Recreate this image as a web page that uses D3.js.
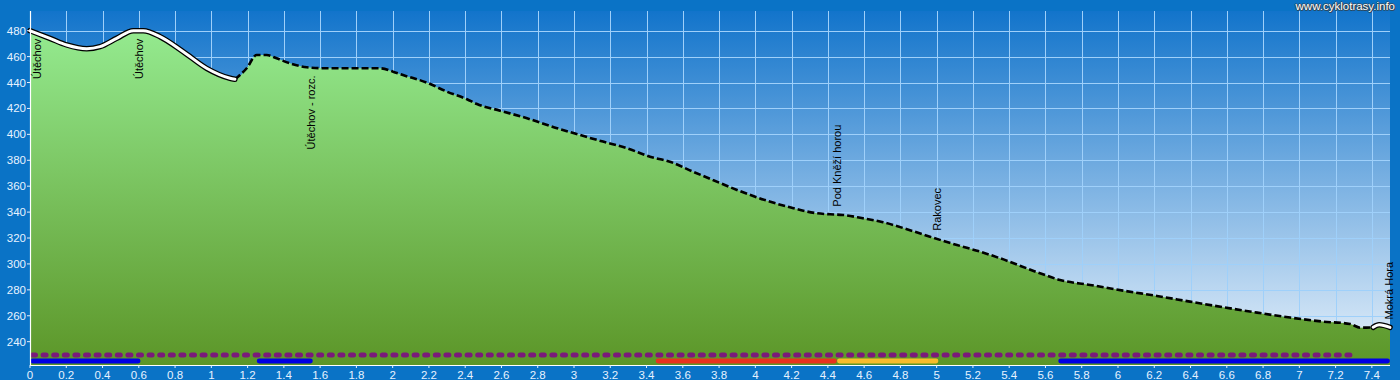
<!DOCTYPE html>
<html><head><meta charset="utf-8">
<script src="https://cdn.jsdelivr.net/npm/d3@7"></script>
<style>html,body{margin:0;padding:0;background:#0a73c6;} svg{display:block;}</style>
</head><body>
<svg id="c" width="1400" height="380"></svg>
<script>
// ---- data ----
const distKm = [0.000,0.110,0.202,0.313,0.386,0.478,0.570,0.625,0.717,0.845,0.974,1.103,1.130,
  1.195,1.250,1.305,1.360,1.434,1.526,1.636,1.930,2.002,2.057,2.189,2.300,2.410,2.465,2.592,2.741,
  2.907,3.033,3.160,3.292,3.419,3.529,3.656,3.766,3.899,4.064,4.191,4.340,4.412,4.483,4.593,4.704,
  4.836,4.963,5.112,5.239,5.349,5.570,5.680,5.846,6.028,6.215,6.397,6.579,6.767,6.949,7.131,7.280,
  7.335,7.407,7.440,7.500];
const elevM = [480,474.1,469,466.1,467.7,474.1,480,480,475.4,463.8,451,443.3,442.5,
  451,461.3,461.3,458.7,454.8,451.8,451,451,448.4,445.8,439.9,432.9,427.1,423.4,418.3,412.4,
  404.7,399.5,394.4,389.3,382.8,378.9,371.2,364.8,357.1,348.8,343.7,339.1,338.3,337.8,335.2,332.2,
  326.8,321.0,314.6,309.5,304.4,292.8,287.6,283.8,279.4,275.3,270.9,266.6,262.4,258.6,255.5,253.7,
  250.8,251.1,253.0,251.0];
const xTicks = [0,0.2,0.4,0.6,0.8,1,1.2,1.4,1.6,1.8,2,2.2,2.4,2.6,2.8,3,3.2,3.4,3.6,3.8,4,4.2,4.4,4.6,4.8,5,5.2,5.4,5.6,5.8,6,6.2,6.4,6.6,6.8,7,7.2,7.4];
const yTicks = [240,260,280,300,320,340,360,380,400,420,440,460,480];
const placeKm = [0, 0.6, 1.55, 4.45, 5.0, 7.5];
const placeNames = ["Útěchov","Útěchov","Útěchov - rozc.","Pod Kněží horou","Rakovec","Mokrá Hora"];
const solidRanges = [[0,1.13],[7.407,7.5]];
const dashedRanges = [[1.13,7.407]];
const purpleRanges = [[0,7.30]];
const blueRanges = [[0,0.61],[1.25,1.56],[5.67,7.5]];
const redRanges = [[3.45,4.45]];
const yellowRanges = [[4.45,5.01]];
const watermark = "www.cyklotrasy.info";

// ---- chart ----
const svg = d3.select("#c");
const x = d3.scaleLinear([0,7.5],[30,1390]);
const y = d3.scaleLinear([222,495.2],[365,11]);
const pts = distKm.map((d,i)=>({km:d, e:elevM[i]}));
const [x0,x1] = x.range(), [yb,yt] = y.range();

const defs = svg.append("defs");
const sky = defs.append("linearGradient").attr("id","sky").attr("gradientUnits","userSpaceOnUse")
  .attr("x1",0).attr("x2",0).attr("y1",yt).attr("y2",yb);
sky.append("stop").attr("offset",0).attr("stop-color","#1274cb");
sky.append("stop").attr("offset",1).attr("stop-color","#e9f2fb");
const gr = defs.append("linearGradient").attr("id","grass").attr("gradientUnits","userSpaceOnUse")
  .attr("x1",0).attr("x2",0).attr("y1",y(480)).attr("y2",yb);
gr.append("stop").attr("offset",0).attr("stop-color","#94ea8f");
gr.append("stop").attr("offset",1).attr("stop-color","#5c9628");

svg.append("rect").attr("width",1400).attr("height",380).attr("fill","#0a73c6");
svg.append("rect").attr("x",x0).attr("y",yt).attr("width",x1-x0).attr("height",yb-yt).attr("fill","url(#sky)");

// grid
const grid = svg.append("g").attr("stroke","#9fd0fa").attr("stroke-width",1).attr("shape-rendering","crispEdges");
grid.selectAll(".v").data(xTicks.filter(d=>d>0)).join("line")
  .attr("x1",d=>Math.round(x(d))+0.5).attr("x2",d=>Math.round(x(d))+0.5).attr("y1",yt).attr("y2",yb);
grid.selectAll(".h").data(yTicks).join("line")
  .attr("y1",d=>Math.round(y(d))+0.5).attr("y2",d=>Math.round(y(d))+0.5).attr("x1",x0).attr("x2",x1);

// area
const curve = d3.curveMonotoneX;
svg.append("path").datum(pts).attr("fill","url(#grass)")
  .attr("d", d3.area().x(d=>x(d.km)).y0(yb).y1(d=>y(d.e)).curve(curve));

const line = d3.line().x(d=>x(d.km)).y(d=>y(d.e)).curve(curve);
const sub = r => pts.filter(p=>p.km>=r[0]-1e-9 && p.km<=r[1]+1e-9);
dashedRanges.forEach(r=>{
  svg.append("path").datum(sub(r)).attr("fill","none").attr("stroke","#000")
    .attr("stroke-width",2.6).attr("stroke-dasharray","7,3").attr("d",line);
});
solidRanges.forEach(r=>{
  svg.append("path").datum(sub(r)).attr("fill","none").attr("stroke","#000")
    .attr("stroke-width",5.5).attr("stroke-linecap","round").attr("stroke-linejoin","round").attr("d",line);
  svg.append("path").datum(sub(r)).attr("fill","none").attr("stroke","#fff")
    .attr("stroke-width",3).attr("stroke-linecap","round").attr("stroke-linejoin","round").attr("d",line);
});

// bottom track bars
function bars(ranges, color, yy, w, dash){
  svg.append("g").selectAll("line").data(ranges).join("line")
    .attr("x1",d=>x(d[0])+2.5).attr("x2",d=>x(d[1])-2.5).attr("y1",yy).attr("y2",yy)
    .attr("stroke",color).attr("stroke-width",w).attr("stroke-linecap","round")
    .attr("stroke-dasharray",dash||null);
}
bars(purpleRanges,"#7a1a7a",355,5,"3,7.6");
bars(blueRanges,"#0000e4",361,4.8);
bars(redRanges,"#e8321e",361,4.8);
bars(yellowRanges,"#f8bc2c",361,4.8);

// axes
svg.append("line").attr("x1",x0).attr("x2",x1).attr("y1",yb+0.5).attr("y2",yb+0.5).attr("stroke","#fff").attr("stroke-width",1.2);
svg.append("line").attr("x1",x0+0.5).attr("x2",x0+0.5).attr("y1",yt).attr("y2",yb).attr("stroke","#fff").attr("stroke-width",1.2);
const font = "Arial, 'Liberation Sans', sans-serif";
const xa = svg.append("g").attr("font-family",font).attr("font-size",11.5).attr("fill","#e6f2ff");
xa.selectAll("line").data(xTicks).join("line").attr("x1",d=>x(d)).attr("x2",d=>x(d)).attr("y1",yb).attr("y2",yb+3).attr("stroke","#e6f2ff");
xa.selectAll("text").data(xTicks).join("text").attr("x",d=>x(d)).attr("y",378.5).attr("text-anchor","middle").text(d=>String(d));
const ya = svg.append("g").attr("font-family",font).attr("font-size",11.5).attr("fill","#e6f2ff");
ya.selectAll("line").data(yTicks).join("line").attr("x1",x0-3).attr("x2",x0).attr("y1",d=>y(d)).attr("y2",d=>y(d)).attr("stroke","#e6f2ff");
ya.selectAll("text").data(yTicks).join("text").attr("x",x0-4).attr("y",d=>y(d)).attr("dy","0.35em").attr("text-anchor","end").text(d=>d);

// place labels
const bis = d3.bisector(d=>d.km).left;
function elevAt(k){
  const i = Math.max(1, Math.min(pts.length-1, bis(pts,k)));
  const a = pts[i-1], b = pts[i];
  return a.e + (b.e-a.e)*(k-a.km)/(b.km-a.km);
}
const lab = svg.append("g").attr("font-family",font).attr("font-size",11).attr("fill","#000");
placeKm.forEach((k,i)=>{
  const ly = y(elevAt(k));
  const lx = Math.max(x0+7, Math.min(x1-1, x(k)));
  const t = lab.append("text").attr("dy","0.36em").text(placeNames[i]);
  const len = t.node().getComputedTextLength();
  const above = ly - 8 - len >= yt;
  const startY = above ? ly - 8 : ly + 8 + len;
  t.attr("transform",`translate(${lx},${startY}) rotate(-90)`);
});

// watermark
const wm = svg.append("g").attr("font-family",font).attr("font-size",11.5).attr("text-anchor","end");
[[-1,0],[1,0],[0,-1],[0,1],[1,1]].forEach(([dx,dy])=>{
  wm.append("text").attr("x",1395+dx).attr("y",10+dy).attr("fill","#3a3a3a").attr("opacity",0.6).text(watermark);
});
wm.append("text").attr("x",1395).attr("y",10).attr("fill","#fff").text(watermark);
</script>
</body></html>
